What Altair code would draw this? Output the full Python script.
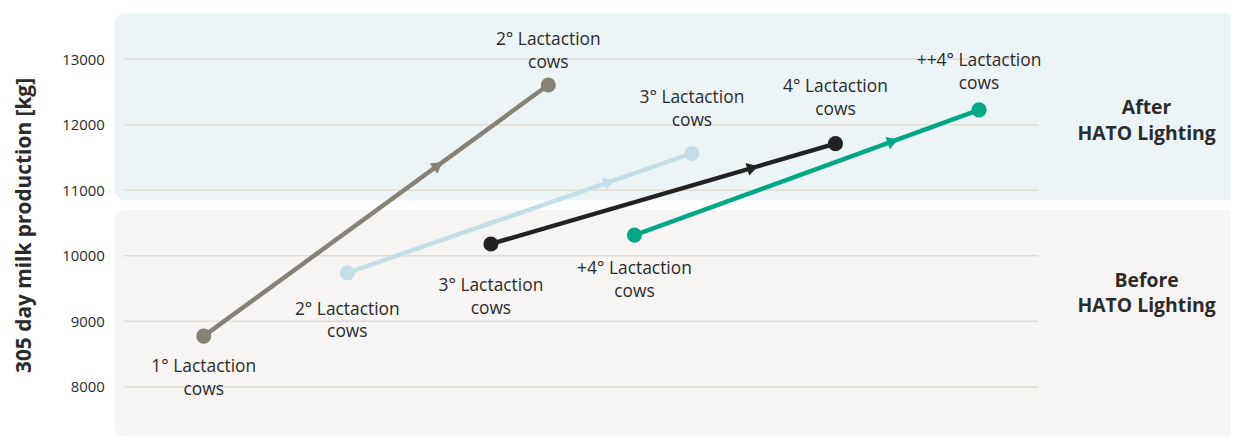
import math
import altair as alt
import pandas as pd

# ---- data ----
groups = ["1°", "2°", "3°", "4°"]
colors = ["#878278", "#c5dde4", "#222222", "#00a884"]
x_start = [1.0, 2.0, 3.0, 4.0]
x_end = [3.4, 4.4, 5.4, 6.4]
before = [8775, 9740, 10180, 10315]
after = [12605, 11560, 11710, 12225]
start_labels = ["1° Lactaction\ncows", "2° Lactaction\ncows", "3° Lactaction\ncows", "+4° Lactaction\ncows"]
end_labels = ["2° Lactaction\ncows", "3° Lactaction\ncows", "4° Lactaction\ncows", "++4° Lactaction\ncows"]
y_ticks = [8000, 9000, 10000, 11000, 12000, 13000]

# ---- layout / style ----
W, H = 1124, 426
YDOM = [7242, 13697]
XDOM = [0.377, 8.155]
px_y = H / (YDOM[1] - YDOM[0])
px_x = W / (XDOM[1] - XDOM[0])
arrow_frac = [0.68, 0.76, 0.76, 0.75]
start_off = [22, 28, 33, 25]       # px below point to top of label
end_off = [-54, -65, -66, -58]     # px (negative = above) to top of label
FONT = "Open Sans"
TXT = "#2b2b2b"

seg_rows, pt_rows, arr_rows = [], [], []
for i, g in enumerate(groups):
    seg_rows.append(dict(g=g, x=x_start[i], y=before[i], x2=x_end[i], y2=after[i]))
    pt_rows.append(dict(g=g, x=x_start[i], y=before[i]))
    pt_rows.append(dict(g=g, x=x_end[i], y=after[i]))
    f = arrow_frac[i]
    dxp = (x_end[i] - x_start[i]) * px_x
    dyp = (after[i] - before[i]) * px_y
    ang = (360 - math.degrees(math.atan2(dyp, dxp))) % 360
    arr_rows.append(dict(g=g, x=x_start[i] + f * (x_end[i] - x_start[i]),
                         y=before[i] + f * (after[i] - before[i]), ang=ang))
seg = pd.DataFrame(seg_rows)
pts = pd.DataFrame(pt_rows)
arr = pd.DataFrame(arr_rows)
labs = pd.DataFrame(dict(
    x=x_start + x_end,
    y=[b - o / px_y for b, o in zip(before, start_off)] + [a - o / px_y for a, o in zip(after, end_off)],
    t=start_labels + end_labels))
grid = pd.DataFrame(dict(y=y_ticks))

xs = alt.Scale(domain=XDOM, nice=False, zero=False)
ys = alt.Scale(domain=YDOM, nice=False, zero=False)
col = alt.Color("g:N", scale=alt.Scale(domain=groups, range=colors), legend=None)

one = pd.DataFrame(dict(a=[0]))
bg_top = alt.Chart(one).mark_rect(color="#edf4f6", cornerRadius=12).encode(
    x=alt.value(0), x2=alt.value(W + 12), y=alt.value(0), y2=alt.value(188))
bg_bot = alt.Chart(one).mark_rect(color="#f6f5f3", cornerRadius=12).encode(
    x=alt.value(0), x2=alt.value(W + 12), y=alt.value(198), y2=alt.value(H))

rules = alt.Chart(grid).mark_rule(color="#e2ddd5", strokeWidth=1.5).encode(
    x=alt.value(10), x2=alt.value(930),
    y=alt.Y("y:Q", scale=ys, axis=alt.Axis(
        values=y_ticks, format="d", title="305 day milk production [kg]", grid=False, ticks=False,
        domain=False, labelFont=FONT, labelFontSize=15, labelColor=TXT, labelPadding=10,
        titleFont=FONT, titleFontSize=21, titleFontWeight="bold", titleColor=TXT,
        titlePadding=27)))

lines = alt.Chart(seg).mark_rule(strokeWidth=4.5).encode(
    x=alt.X("x:Q", scale=xs, axis=None), x2="x2:Q",
    y=alt.Y("y:Q", scale=ys), y2="y2:Q", color=col)

arrows = alt.Chart(arr).mark_point(shape="triangle-right", filled=True, opacity=1, size=170).encode(
    x=alt.X("x:Q", scale=xs), y=alt.Y("y:Q", scale=ys), angle=alt.Angle("ang:Q", scale=None), color=col)

points = alt.Chart(pts).mark_circle(size=230, opacity=1).encode(
    x=alt.X("x:Q", scale=xs), y=alt.Y("y:Q", scale=ys), color=col)

texts = alt.Chart(labs).mark_text(font=FONT, fontSize=17.5, color=TXT, baseline="top",
                                  lineBreak="\n", lineHeight=23).encode(
    x=alt.X("x:Q", scale=xs), y=alt.Y("y:Q", scale=ys), text="t:N")

side = pd.DataFrame(dict(t=["After\nHATO Lighting", "Before\nHATO Lighting"], py=[95, 269]))
side_text = alt.Chart(side).mark_text(font=FONT, fontSize=19.5, fontWeight="bold", color=TXT,
                                      baseline="middle", lineBreak="\n", lineHeight=26).encode(
    x=alt.value(1039), y=alt.Y("py:Q", scale=None), text="t:N")

chart = alt.layer(bg_top, bg_bot, rules, lines, arrows, points, texts, side_text).properties(
    width=W, height=H, autosize=alt.AutoSizeParams(type="none"),
    padding={"left": 107, "top": 4, "right": 0, "bottom": 0},
    background="white",
).configure_view(stroke=None)

chart.save("out.html", embed_options={"renderer": "svg", "actions": False})
